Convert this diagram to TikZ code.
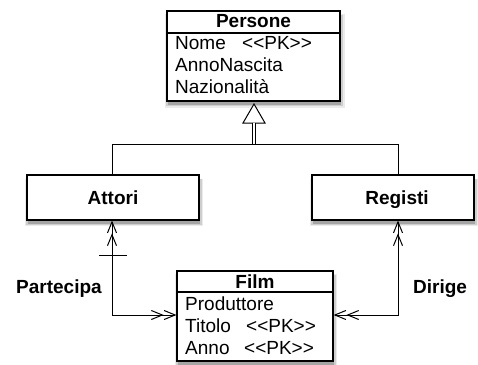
\documentclass[tikz,border=0pt]{standalone}
\usepackage{fontspec}
\setmainfont{Liberation Sans}
\usetikzlibrary{arrows.meta,shadows}
\begin{document}
\begin{tikzpicture}[x=1pt,y=-1pt,
  box/.style={draw, line width=1.1pt, fill=white, rectangle, inner sep=0pt,
    general shadow={shadow xshift=1pt, shadow yshift=-5pt, shadow scale=1.04, fill=black, opacity=0.08},
    general shadow={shadow xshift=1pt, shadow yshift=-4.5pt, shadow scale=1.02, fill=black, opacity=0.12},
    general shadow={shadow xshift=1pt, shadow yshift=-4pt, fill=black, opacity=0.2}},
  hdr/.style={anchor=base, font=\bfseries\fontsize{19}{21}\selectfont, inner sep=0pt},
  attr/.style={anchor=base west, font=\fontsize{19}{21}\selectfont, inner sep=0pt},
  lab/.style={anchor=base west, font=\bfseries\fontsize{19}{21}\selectfont, inner sep=0pt},
  conn/.style={line width=1pt},
  dbl/.style={conn, {Straight Barb[length=11pt,width=9pt,sep=0pt]Straight Barb[length=11pt,width=9pt]}-{Straight Barb[length=11pt,width=9pt,sep=0pt]Straight Barb[length=11pt,width=9pt]}}
]
\useasboundingbox (0,0) rectangle (478,364);

% Persone
\node[box, minimum width=173pt, minimum height=90pt] (persone) at (253.5,56) {};
\coordinate (ph) at (0,33);
\draw[line width=1.1pt] (persone.west |- ph) -- (persone.east |- ph);
\node[hdr] (pt) at (253.5,27.5) {Persone};
\node[attr] (p1) at (175,49.5) {Nome};
\node[attr] (p1k) at (242,49.5) {<{}<PK>{}>};
\node[attr] (p2) at (175,71.5) {AnnoNascita};
\node[attr] (p3) at (175,93.5) {Nazionalità};

% Attori, Registi
\node[box, minimum width=172pt, minimum height=45pt] (attori) at (113,197.5) {};
\node[hdr] (at) at (113,204) {Attori};
\node[box, minimum width=162pt, minimum height=45pt] (registi) at (393,197.5) {};
\node[hdr] (rt) at (397,204) {Registi};

% Film
\node[box, minimum width=156pt, minimum height=90pt] (film) at (255,316) {};
\coordinate (fh) at (0,292);
\draw[line width=1.1pt] (film.west |- fh) -- (film.east |- fh);
\node[hdr] (ft) at (255,288) {Film};
\node[attr] (f1) at (185,310) {Produttore};
\node[attr] (f2) at (185,332) {Titolo};
\node[attr] (f2k) at (246,332) {<{}<PK>{}>};
\node[attr] (f3) at (185,354) {Anno};
\node[attr] (f3k) at (244,354) {<{}<PK>{}>};

% Generalization
\coordinate (tip) at (254,104);
\coordinate (tb) at (254,123);
\coordinate (g) at (254,144);
\coordinate (ga) at (112,144);
\coordinate (gr) at (398,144);
\draw[conn, fill=white] (tip) -- (265,123) -- (243,123) -- cycle;
\draw[conn, double distance=2pt] (tb) -- (g);
\draw[conn] (attori.north -| ga) -- (ga) -- (gr) -- (registi.north -| gr);

% Partecipa
\coordinate (pc) at (112,315);
\draw[dbl] (attori.south -| pc) -- (pc) -- (film.west |- pc);
\draw[conn] (99,255.5) -- (127,255.5);
\node[lab] (pl) at (16,293) {Partecipa};

% Dirige
\coordinate (dc) at (398,315);
\draw[dbl] (registi.south -| dc) -- (dc) -- (film.east |- dc);
\node[lab] (dl) at (413,293) {Dirige};
\end{tikzpicture}
\end{document}
